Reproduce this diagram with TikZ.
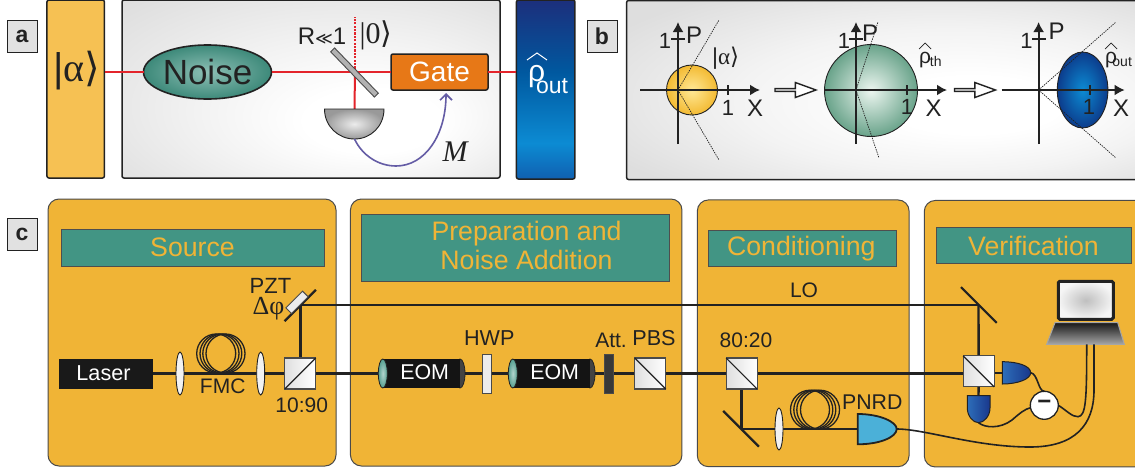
\documentclass[tikz,border=0pt]{standalone}
\usepackage{fontspec}
\setmainfont{Liberation Sans}
\newfontfamily\srf{Liberation Serif}
\newfontfamily\dv{DejaVu Sans}
\usetikzlibrary{arrows.meta,shapes.geometric,shapes.arrows}
\pgfdeclarelayer{bg}\pgfdeclarelayer{beam}\pgfsetlayers{bg,beam,main}
\definecolor{panelo}{HTML}{F0B436}
\definecolor{teal1}{HTML}{429584}
\definecolor{ink}{HTML}{222222}
\definecolor{edge}{HTML}{4A4A4A}
\definecolor{g1}{HTML}{DEDEDE}
\definecolor{g2}{HTML}{F3F3F3}
\definecolor{bb1}{HTML}{1C2F7C}
\definecolor{bb2}{HTML}{00589F}
\definecolor{bb3}{HTML}{0C8BD3}
\definecolor{bb4}{HTML}{1060B0}
\definecolor{laserred}{HTML}{E3242B}
\pgfdeclareverticalshading{bluebar}{100bp}{color(0bp)=(bb4);color(25bp)=(bb4);color(35bp)=(bb3);color(55bp)=(bb2);color(75bp)=(bb1);color(100bp)=(bb1)}
\pgfdeclareradialshading{panela}{\pgfpoint{10bp}{-11bp}}{color(0bp)=(white);color(9bp)=(white);color(20bp)=(g2);color(38bp)=(g1);color(50bp)=(g1)}
\pgfdeclareradialshading{panelb}{\pgfpoint{9bp}{-5bp}}{color(0bp)=(white);color(8bp)=(white);color(20bp)=(g2);color(34bp)=(g1);color(50bp)=(g1)}
\newcommand\fs[1]{\fontsize{#1}{#1}\selectfont}
\tikzset{
 x=1pt,y=-1pt,
 every node/.style={inner sep=0pt,outer sep=0pt},
 lab/.style={font=\fs{#1},text=ink},
 lab/.default=21,
 tag/.style={draw=ink,line width=1pt,fill=g1!90!white,minimum width=30pt,minimum height=32pt,font=\fs{23}\bfseries,text=ink},
 box/.style={rectangle,draw=ink,line width=1.5pt,rounded corners=2pt},
 stage/.style={rectangle,draw=edge,line width=1pt,fill=panelo,rounded corners=11pt},
 title/.style={rectangle,draw=ink!80,line width=1pt,fill=teal1,text=panelo,font=\fs{26.7},align=center},
 redline/.style={draw=laserred,line width=2pt},
 beam/.style={draw=ink,line width=2.4pt},
 wire/.style={draw=ink,line width=1.6pt},
 axis/.style={draw=ink,line width=1.8pt,-{Latex[length=10pt,width=11pt]}},
 tick/.style={draw=ink,line width=1.2pt},
 dots/.style={draw=ink,line width=.7pt,dash pattern=on 1.4pt off 1pt},
 hollow/.style={single arrow,draw=ink,line width=1.4pt,fill=white,minimum height=41pt,minimum width=15pt,single arrow head extend=3pt,single arrow tip angle=40},
 lens/.style={ellipse,draw=ink,line width=.9pt,fill=gray!10,minimum width=8pt,minimum height=43pt},
 coil/.style={circle,draw=ink,line width=1.3pt,minimum size=39pt},
 cube/.style={rectangle,draw=edge,line width=1.1pt,left color=gray!25,right color=white,minimum size=31pt},
 plate/.style={rectangle,draw=edge,line width=1pt,minimum width=9pt,minimum height=39pt},
 bar/.style={rectangle,fill=ink,minimum width=50.5pt,minimum height=2.2pt},
}
% EOM cylinder: name, left x, right x, y
\newcommand\eomcyl[4]{%
 \node[ellipse,fill=ink!85,draw=ink,line width=.8pt,minimum width=10pt,minimum height=29pt] (#1right) at (#3-5,#4) {};
 \node[rectangle,fill=black!92,minimum width=#3-#2-10,minimum height=29pt] (#1body) at ({(#2+#3)/2},#4) {};
 \node[ellipse,draw=ink,line width=.8pt,inner color=teal1!40,outer color=teal1!90,minimum width=9pt,minimum height=29pt] (#1left) at (#2+4.5,#4) {};
 \node[font=\fs{21.4},text=white] (#1) at ({(#2+#3)/2+3},#4-1) {EOM};
}
\begin{document}
\begin{tikzpicture}
\useasboundingbox (0,0) rectangle (1135,469);
\begin{pgfonlayer}{bg}
 \node[box,shading=panela,minimum width=378pt,minimum height=178pt] (pa) at (311,89) {};
 \node[box,shading=panelb,minimum width=534pt,minimum height=179pt] (pb) at (893.6,90) {};
 \node[stage,minimum width=288pt,minimum height=267pt] (src) at (192,332.5) {};
 \node[stage,minimum width=331.5pt,minimum height=267pt] (prep) at (516.2,332.5) {};
 \node[stage,minimum width=211.7pt,minimum height=266.7pt] (cond) at (803.2,333.3) {};
 \node[stage,minimum width=240pt,minimum height=266.5pt] (veri) at (1044.3,333.7) {};
\end{pgfonlayer}

% tags
\node[tag] (ta) at (22,36) {a};
\node[tag] (tb) at (602,36) {b};
\node[tag] (tc) at (22,234) {c};

% ---------- panel a
\node[box,fill={rgb,255:red,246;green,193;blue,83},minimum width=57.5pt,minimum height=178pt] (alpha) at (75.7,89) {};
\node[font=\fs{40},text=ink] (alphat) at (77,71) {|{\srf α}{\dv ⟩}};
\node[box,shading=bluebar,minimum width=58.5pt,minimum height=179pt] (rhob) at (545.7,89.5) {};
\node[font=\fs{30},text=white,anchor=base west] (rhoa) at (528,81) {ρ\kern-9pt\raisebox{-12pt}{\fs{23}out}};
\draw[white,line width=1pt] (527,60) -- (537,53) -- (547,60);
\node[ellipse,draw=ink,line width=1.6pt,inner color=teal1!60!white,outer color=teal1!92!black,minimum width=128pt,minimum height=54pt,font=\fs{35},text=ink] (noise) at (207.5,72) {Noise};
\node[box,fill={rgb,255:red,231;green,120;blue,23},minimum width=97pt,minimum height=36pt,font=\fs{28},text=white] (gate) at (439.5,72) {Gate};
\coordinate (dg) at (354.5,109);
\coordinate (dgb) at (354.5,139);
\coordinate (bsa) at (355,72);
\coordinate (dott) at (355,17);
\coordinate (garrow) at (446,93);
\coordinate (alphaout) at (105,72);
\draw[redline] (noise.east) -- (gate.west);
\draw[redline] (gate.east) -- (gate.east -| rhob.west);
\draw[redline] (bsa) -- (dg);
\draw[draw=laserred,line width=1.2pt,dash pattern=on 2.2pt off 1.2pt] (bsa) -- (dott);
\draw[redline] (alphaout) -- (noise.west);
\node[rectangle,draw=edge,line width=.9pt,fill=gray!60,minimum width=63pt,minimum height=5.5pt,rotate=-46] (bsm) at (354.5,72.5) {};
\shade[draw=ink,line width=.9pt,inner color=gray!15,outer color=gray!80] (324.5,109) -- (384,109) .. controls (384,126) and (371,139) .. (dgb) .. controls (338,139) and (324.5,126) .. (324.5,109) -- cycle;
\draw[draw={rgb,255:red,100;green,92;blue,165},line width=1.6pt,-{Straight Barb[length=6pt,width=12pt]}] (dgb) .. controls (362,155) and (378,166) .. (396,166) .. controls (425,166) and (446,135) .. (garrow);
\node[font=\fs{30}\srf\itshape,text=ink] (mm) at (455,152) {M};
\node[lab=24] (rl) at (322,36) {R{\dv\fs{17}≪}1};
\node[font=\fs{30}\srf,text=ink] (ket0) at (376,35) {|0{\dv ⟩}};

% ---------- panel b
\node[ellipse,draw=ink,line width=.9pt,inner color={rgb,255:red,255;green,232;blue,150},outer color={rgb,255:red,243;green,186;blue,50},minimum width=51pt,minimum height=50pt] (c1) at (692,90) {};
\node[ellipse,draw=ink,line width=.9pt,inner color={rgb,255:red,236;green,246;blue,240},outer color={rgb,255:red,105;green,163;blue,138},minimum width=93pt,minimum height=92pt] (c2) at (871,90.5) {};
\node[ellipse,draw=ink,line width=.9pt,inner color=bb3,outer color={rgb,255:red,12;green,60;blue,140},minimum width=50.6pt,minimum height=76pt] (c3) at (1082.6,90) {};
% plot 1
\coordinate (o1) at (678,90);
\draw[axis] (640,90) -- (760,90) coordinate (x1);
\draw[axis] (678,144) -- (678,22) coordinate (y1);
\draw[tick] (671,39) -- (685,39);
\draw[tick] (728,85) -- (728,95);
\draw[dots] (o1) -- (719,20);
\draw[dots] (o1) -- (719,160);
\node[lab=22] (o1y) at (665,41) {1};
\node[lab=24] (p1) at (694,35) {P};
\node[lab=22] (o1x) at (728,108) {1};
\node[lab=24] (x1l) at (755,108) {X};
\node[font=\fs{23},text=ink] (ka) at (725.6,58) {|{\srf α}{\dv ⟩}};
\node[hollow] (ar1) at (793.5,90) {};
% plot 2
\coordinate (o2) at (856,90);
\draw[axis] (825,90) -- (947,90) coordinate (x2);
\draw[axis] (856,144) -- (856,22) coordinate (y2);
\draw[tick] (849,39) -- (863,39);
\draw[tick] (907,85) -- (907,95);
\draw[dots] (o2) -- (878,22);
\draw[dots] (o2) -- (879,158);
\node[lab=22] (o2y) at (844,41) {1};
\node[lab=24] (p2) at (870,33) {P};
\node[lab=22] (o2x) at (907,107) {1};
\node[lab=24] (x2l) at (933.5,108) {X};
\node[lab=21,anchor=base west] (rt) at (919,63) {ρ\kern-1pt\raisebox{-3pt}{\fs{14}th}};
\draw[ink,line width=.7pt] (919,49) -- (925,43) -- (931,49);
\node[hollow] (ar2) at (973,90) {};
% plot 3
\coordinate (o3) at (1038.6,90);
\draw[axis] (1001.7,90) -- (1124.6,90) coordinate (x3);
\draw[axis] (1038.6,144) -- (1038.6,22) coordinate (y3);
\draw[tick] (1032,39) -- (1046,39);
\draw[tick] (1090,85) -- (1090,95);
\draw[dots] (o3) -- (1116,22);
\draw[dots] (o3) -- (1116,158);
\node[lab=22] (o3y) at (1026.6,41) {1};
\node[lab=24] (p3) at (1056.6,31) {P};
\node[lab=22] (o3x) at (1089,107) {1};
\node[lab=24] (x3l) at (1121,108) {X};
\node[lab=21,anchor=base west] (rou) at (1105,63) {ρ\kern-4.5pt\raisebox{-3pt}{\fs{14}out}};
\draw[ink,line width=.7pt] (1105,49) -- (1111,43) -- (1117,49);

% ---------- panel c titles
\node[title,minimum width=263pt,minimum height=37pt] (tsrc) at (192.5,247.5) {Source};
\node[title,minimum width=308pt,minimum height=67.3pt] (tprep) at (515.3,247.7) {};
\node[font=\fs{26.7},text=panelo,align=center] (tprept) at (526.5,245.5) {Preparation and\\[3pt]Noise Addition};
\node[title,minimum width=187.7pt,minimum height=36.4pt] (tcond) at (802.8,248.5) {\hspace*{-3pt}Conditioning};
\node[title,minimum width=195pt,minimum height=36.4pt] (tver) at (1033.5,245.5) {Verification};

% source
\node[rectangle,fill=black!90,minimum width=94pt,minimum height=30pt,font=\fs{21.6},text=white] (laser) at (106,373.5) {\hspace*{-5pt}Laser};
\node[coil] (f1) at (216.2,353.5) {};
\node[coil] (f2) at (219.5,353.5) {};
\node[coil] (f3) at (222.3,353.5) {};
\node[coil] (f4) at (225.5,353.5) {};
\node[lens] (l1) at (180,373.5) {};
\node[lens] (l2) at (260.7,373.5) {};
\node[cube] (bs1) at (300.3,373.5) {};
\draw[ink,line width=1.2pt] (bs1.south west) -- (bs1.north east);
\node[lab=21] (fmc) at (222.7,386) {FMC};
\node[lab=21] (r1090) at (301.7,405) {10:90};
\node[align=center,font=\fs{22},text=ink] (pzt) at (268.5,299) {\hspace*{4pt}PZT\\[-1pt]{\srf\fs{26}Δφ}};
\node[bar,minimum width=44.4pt,rotate=45] (pzm) at (300.2,305.5) {};
\node[rectangle,draw=edge,line width=.9pt,fill=gray!15,minimum width=23.6pt,minimum height=8pt,rotate=45] (pz) at (297,302.3) {};
\coordinate (pzc) at (300.3,305);
% prep
\eomcyl{ea}{378.3}{465}{373.5}
\eomcyl{eb}{508.3}{595}{373.5}
\node[plate,fill=gray!15] (hwp) at (487,373.5) {};
\node[plate,fill=ink!90] (att) at (609.3,373.5) {};
\node[cube] (pbs) at (650.3,373.5) {};
\draw[ink,line width=1.2pt] (pbs.north west) -- (pbs.south east);
\node[lab=21.6] (hwpl) at (489.3,337.7) {HWP};
\node[lab=21] (attl) at (611,340.7) {Att.};
\node[lab=21.6] (pbsl) at (654,338) {PBS};
% conditioning
\node[cube] (bs2) at (741.6,373.5) {};
\draw[ink,line width=1.2pt] (bs2.north west) -- (bs2.south east);
\node[lab=21] (r8020) at (746,340) {80:20};
\node[lab=21] (lo) at (804,290.7) {LO};
\node[bar,rotate=-45] (ma) at (741,428.8) {};
\node[coil] (g1) at (810,409.7) {};
\node[coil] (g2) at (813.3,409.7) {};
\node[coil] (g3) at (816.3,409.7) {};
\node[coil] (g4) at (820,409.7) {};
\node[lens,minimum height=42pt] (l3) at (779,429) {};
\coordinate (pn) at (857.7,428.8);
\coordinate (ptip) at (896.7,429);
\draw[draw=ink,line width=1.8pt,fill={rgb,255:red,75;green,176;blue,216}] (857.7,414) .. controls (880,414) and (896.7,422) .. (ptip) .. controls (896.7,437) and (880,444.3) .. (857.7,444.3) -- cycle;
\node[lab=21.3] (pnrd) at (872.3,401.7) {PNRD};
% verification
\node[bar,rotate=-45] (mb) at (978.8,305) {};
\coordinate (mbc) at (978.5,305);
\node[cube] (bs3) at (978.6,371.4) {};
\draw[ink,line width=1.2pt] (bs3.north west) -- (bs3.south east);
\coordinate (dr) at (1002.3,373);
\coordinate (drtip) at (1030.7,372.7);
\shade[draw=ink,line width=1pt,left color={rgb,255:red,45;green,110;blue,185},right color={rgb,255:red,25;green,55;blue,140}] (1002.3,361.7) .. controls (1018,361.7) and (1030.7,366) .. (drtip) .. controls (1030.7,379) and (1018,384) .. (1002.3,384) -- cycle;
\coordinate (db) at (978.5,395.7);
\coordinate (dbtip) at (978.5,422.7);
\shade[draw=ink,line width=1pt,left color={rgb,255:red,45;green,110;blue,185},right color={rgb,255:red,25;green,55;blue,140}] (967.3,395.7) -- (990,395.7) -- (990,408) .. controls (990,416) and (984,422.7) .. (dbtip) .. controls (973,422.7) and (967.3,416) .. (967.3,408) -- cycle;
\node[circle,draw=ink,line width=1.3pt,fill=white,minimum size=28pt,font=\fs{24}\bfseries,text=ink] (minus) at (1044.3,405.3) {−};
\node[rectangle,draw=ink,line width=3pt,rounded corners=1.5pt,inner color=gray!50,outer color=gray!8,minimum width=55pt,minimum height=38pt] (scr) at (1085.8,300.3) {};
\coordinate (bases) at (1085.5,344.3);
\shade[draw=gray!70,line width=1pt,top color=black!90,bottom color=gray!70] (1055,322.7) -- (1117.7,322.7) -- (1124.3,344.3) -- (1046.7,344.3) -- cycle;
\draw[wire] (drtip) .. controls (1038,374) and (1038,391) .. (minus.north);
\draw[wire] (dbtip) .. controls (985,428) and (1000,429) .. (1012,420) .. controls (1020,413) and (1025,409) .. (minus.190);
\draw[wire] (minus.east) .. controls (1066,410) and (1072,417) .. (1078,416.7) .. controls (1086,416) and (1086.7,400) .. ([xshift=1.2pt]bases);
\draw[wire] (ptip) .. controls (925,429) and (975,447) .. (1030,447) .. controls (1075,447) and (1094,425) .. (1094,390) -- ([xshift=8.5pt]bases);
% beams
\begin{pgfonlayer}{beam}
 \draw[beam] (laser.east) -- (laser.east -| bs1.west);
 \draw[beam] (bs1.east) -- (bs1.east -| ealeft.west);
 \draw[beam] (earight.east) -- (earight.east -| hwp.west);
 \draw[beam] (hwp.east) -- (hwp.east -| ebleft.west);
 \draw[beam] (ebright.east) -- (ebright.east -| att.west);
 \draw[beam] (att.east) -- (att.east -| pbs.west);
 \draw[beam] (pbs.east) -- (bs2.west);
 \draw[beam] (bs2.east) -- (bs2.east -| bs3.west);
 \draw[beam] (bs3.east |- dr) -- (dr);
 \draw[beam] (bs1.north) -- (pzc);
 \draw[beam] (pzc) -- (mbc);
 \draw[beam] (mbc) -- (bs3.north);
 \draw[beam] (bs3.south) -- (db);
 \draw[beam] (bs2.south) -- (bs2.south |- ma);
 \draw[beam] (bs2.south |- ma) -- (pn);
\end{pgfonlayer}
\end{tikzpicture}
\end{document}
